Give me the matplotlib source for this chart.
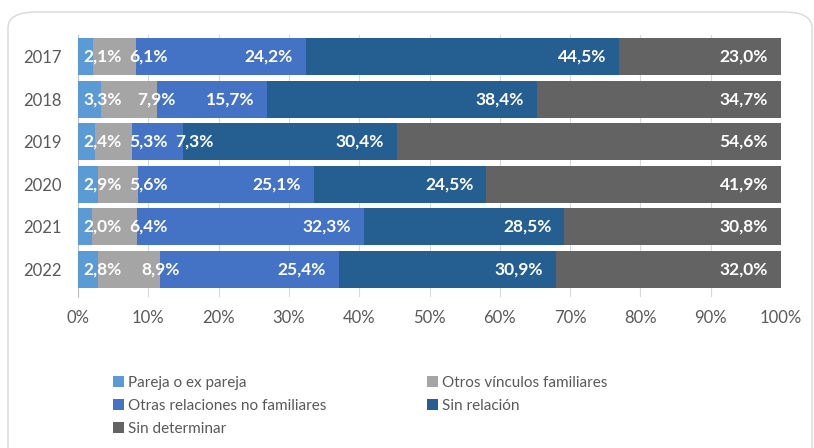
import matplotlib
matplotlib.use("Agg")
import matplotlib.pyplot as plt
from matplotlib.patches import FancyBboxPatch, Patch
import numpy as np

plt.rcParams['font.family'] = ['Lato', 'DejaVu Sans']

years = ["2017", "2018", "2019", "2020", "2021", "2022"]
series_names = ["Pareja o ex pareja", "Otros vínculos familiares",
                "Otras relaciones no familiares", "Sin relación", "Sin determinar"]
pareja = [2.1, 3.3, 2.4, 2.9, 2.0, 2.8]
otros_vinculos = [6.1, 7.9, 5.3, 5.6, 6.4, 8.9]
otras_relaciones = [24.2, 15.7, 7.3, 25.1, 32.3, 25.4]
sin_relacion = [44.5, 38.4, 30.4, 24.5, 28.5, 30.9]
sin_determinar = [23.0, 34.7, 54.6, 41.9, 30.8, 32.0]
colors = ["#5B9BD5", "#A5A5A5", "#4472C4", "#255E91", "#636363"]
xticks = [0, 10, 20, 30, 40, 50, 60, 70, 80, 90, 100]

W, H = 814, 448
fig = plt.figure(figsize=(W / 100, H / 100), dpi=100)

# chart border (rounded)
border = FancyBboxPatch((8 / W, -0.2), (812 - 8) / W, (H - 12) / H + 0.2,
                        boxstyle="round,pad=0,rounding_size=0.035",
                        transform=fig.transFigure, facecolor="none",
                        edgecolor="#D9D9D9", linewidth=1.0, zorder=0)
fig.patches.append(border)

ax_l, ax_r, ax_t, ax_b = 78, 781, 35, 297
ax = fig.add_axes([ax_l / W, 1 - ax_b / H, (ax_r - ax_l) / W, (ax_b - ax_t) / H])

data = np.array([pareja, otros_vinculos, otras_relaciones, sin_relacion, sin_determinar])
totals = data.sum(axis=0)
norm = data / totals * 100
ypos = np.arange(len(years))
lefts = np.zeros(len(years))
bar_h = 0.87
for j in range(len(series_names)):
    ax.barh(ypos, norm[j], left=lefts, height=bar_h, color=colors[j],
            label=series_names[j], zorder=3, linewidth=0)
    lefts = lefts + norm[j]

ax.set_xlim(0, 100)
ax.set_ylim(5.645, -0.505)
ax.set_xticks(xticks)
ax.set_xticklabels([f"{v}%" for v in xticks])
ax.set_yticks(ypos)
ax.set_yticklabels(years)
ax.tick_params(axis='x', length=0, pad=9.4, labelsize=12, labelcolor="#595959")
ax.tick_params(axis='y', length=0, pad=11.5, labelsize=12, labelcolor="#595959")
ax.grid(axis='x', color="#D9D9D9", linewidth=0.8, zorder=0)
for s in ["top", "right", "bottom"]:
    ax.spines[s].set_visible(False)
ax.spines["left"].set_color("#BFBFBF")
ax.spines["left"].set_linewidth(0.8)

# data labels
fig.canvas.draw()
renderer = fig.canvas.get_renderer()
px_per = ax.bbox.width / 100.0
x0 = ax.bbox.x0
pad, gap = 13, 8
for i in range(len(years)):
    left = 0.0
    prev_end = -1e9
    for j in range(len(series_names)):
        right = left + norm[j][i]
        label = f"{data[j][i]:.1f}%".replace(".", ",")
        t = ax.text(0, ypos[i], label, ha='left', va='center', color='white',
                    fontsize=12.5, fontweight='bold', zorder=5)
        w = t.get_window_extent(renderer).width
        lpx = x0 + left * px_per
        rpx = x0 + right * px_per
        if rpx - lpx >= w + 2 * pad:
            start = rpx - pad - w
        else:
            start = rpx - w / 2
        start = max(start, prev_end + gap, x0 + 5)
        prev_end = start + w
        t.set_x((start - x0) / px_per)
        left = right

# legend rows: two columns placed separately
handles = [Patch(facecolor=c, edgecolor='none') for c in colors]
col1 = [0, 2, 4]
col2 = [1, 3]
common = dict(frameon=False, fontsize=11, handlelength=0.7, handleheight=0.7,
              handletextpad=0.3, labelspacing=0.58, borderpad=0, borderaxespad=0,
              labelcolor="#595959")
leg1 = fig.legend([handles[k] for k in col1], [series_names[k] for k in col1],
                  loc='upper left', bbox_to_anchor=(113 / W, 1 - 376 / H), **common)
leg2 = fig.legend([handles[k] for k in col2], [series_names[k] for k in col2],
                  loc='upper left', bbox_to_anchor=(427 / W, 1 - 376 / H), **common)

fig.savefig("out.png", dpi=100)
